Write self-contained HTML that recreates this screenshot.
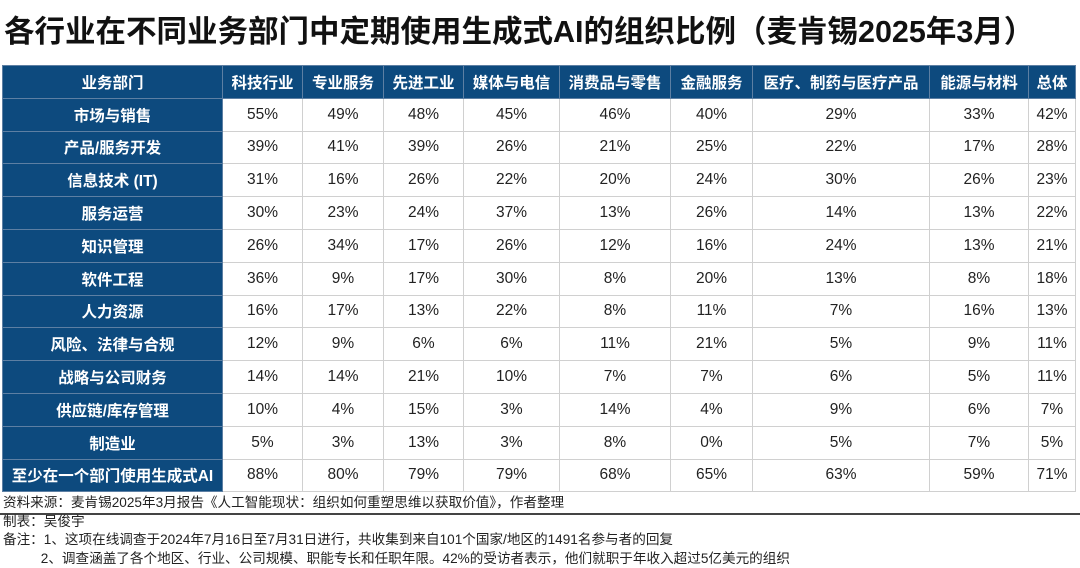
<!DOCTYPE html>
<html><head><meta charset="utf-8"><style>
body{margin:0;width:1080px;height:567px;background:#fff;font-family:"Liberation Sans","Noto Sans CJK SC",sans-serif;overflow:hidden;position:relative}
.title{position:absolute;left:4px;top:7px;font-size:30.5px;font-weight:bold;color:#111;white-space:nowrap}
table{position:absolute;left:2px;top:65px;border-collapse:collapse;table-layout:fixed;width:1073px}
td,th{height:31.8px;padding:0;text-align:center;font-size:15.5px;color:#222;border:1px solid #d0d0d0;white-space:nowrap}
th{background:#0d4a7e;color:#fff;font-weight:bold;border:1px solid #5d7fa3}
td.h{background:#0d4a7e;color:#fff;font-weight:bold;border:1px solid #5d7fa3}
.notes{position:absolute;left:3px;top:494px;font-size:13.6px;color:#222;line-height:18.5px;white-space:nowrap}
.line{position:absolute;left:0;top:513px;width:1080px;height:2px;background:#444}
</style></head><body>
<div class="title">各行业在不同业务部门中定期使用生成式AI的组织比例（麦肯锡2025年3月）</div>
<table>
<colgroup><col style="width:220px"><col style="width:80px"><col style="width:81px"><col style="width:80px"><col style="width:96px"><col style="width:111px"><col style="width:82px"><col style="width:177px"><col style="width:99px"><col style="width:47px"></colgroup>
<tr><th>业务部门</th><th>科技行业</th><th>专业服务</th><th>先进工业</th><th>媒体与电信</th><th>消费品与零售</th><th>金融服务</th><th>医疗、制药与医疗产品</th><th>能源与材料</th><th>总体</th></tr>
<tr><td class="h">市场与销售</td><td>55%</td><td>49%</td><td>48%</td><td>45%</td><td>46%</td><td>40%</td><td>29%</td><td>33%</td><td>42%</td></tr>
<tr><td class="h">产品/服务开发</td><td>39%</td><td>41%</td><td>39%</td><td>26%</td><td>21%</td><td>25%</td><td>22%</td><td>17%</td><td>28%</td></tr>
<tr><td class="h">信息技术 (IT)</td><td>31%</td><td>16%</td><td>26%</td><td>22%</td><td>20%</td><td>24%</td><td>30%</td><td>26%</td><td>23%</td></tr>
<tr><td class="h">服务运营</td><td>30%</td><td>23%</td><td>24%</td><td>37%</td><td>13%</td><td>26%</td><td>14%</td><td>13%</td><td>22%</td></tr>
<tr><td class="h">知识管理</td><td>26%</td><td>34%</td><td>17%</td><td>26%</td><td>12%</td><td>16%</td><td>24%</td><td>13%</td><td>21%</td></tr>
<tr><td class="h">软件工程</td><td>36%</td><td>9%</td><td>17%</td><td>30%</td><td>8%</td><td>20%</td><td>13%</td><td>8%</td><td>18%</td></tr>
<tr><td class="h">人力资源</td><td>16%</td><td>17%</td><td>13%</td><td>22%</td><td>8%</td><td>11%</td><td>7%</td><td>16%</td><td>13%</td></tr>
<tr><td class="h">风险、法律与合规</td><td>12%</td><td>9%</td><td>6%</td><td>6%</td><td>11%</td><td>21%</td><td>5%</td><td>9%</td><td>11%</td></tr>
<tr><td class="h">战略与公司财务</td><td>14%</td><td>14%</td><td>21%</td><td>10%</td><td>7%</td><td>7%</td><td>6%</td><td>5%</td><td>11%</td></tr>
<tr><td class="h">供应链/库存管理</td><td>10%</td><td>4%</td><td>15%</td><td>3%</td><td>14%</td><td>4%</td><td>9%</td><td>6%</td><td>7%</td></tr>
<tr><td class="h">制造业</td><td>5%</td><td>3%</td><td>13%</td><td>3%</td><td>8%</td><td>0%</td><td>5%</td><td>7%</td><td>5%</td></tr>
<tr><td class="h">至少在一个部门使用生成式AI</td><td>88%</td><td>80%</td><td>79%</td><td>79%</td><td>68%</td><td>65%</td><td>63%</td><td>59%</td><td>71%</td></tr>
</table>
<div class="line"></div>
<div class="notes">资料来源：麦肯锡2025年3月报告《人工智能现状：组织如何重塑思维以获取价值》，作者整理<br>制表：吴俊宇<br>备注：1、这项在线调查于2024年7月16日至7月31日进行，共收集到来自101个国家/地区的1491名参与者的回复<br>&nbsp;&nbsp;&nbsp;&nbsp;&nbsp;&nbsp;&nbsp;&nbsp;&nbsp;&nbsp;2、调查涵盖了各个地区、行业、公司规模、职能专长和任职年限。42%的受访者表示，他们就职于年收入超过5亿美元的组织</div>
</body></html>
